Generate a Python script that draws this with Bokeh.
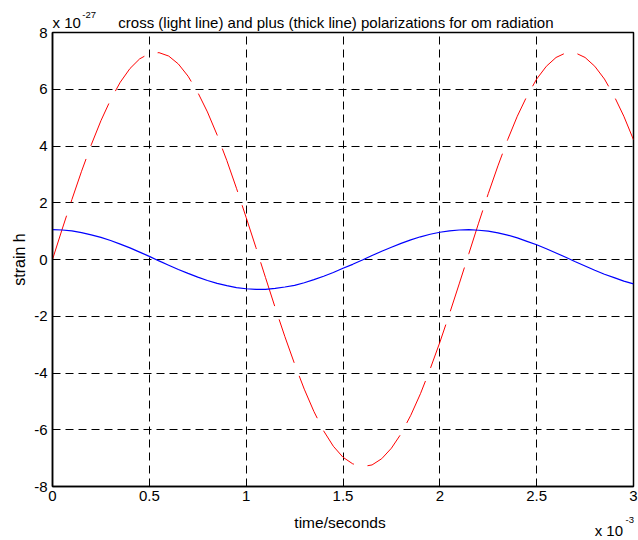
from bokeh.plotting import figure
from bokeh.models import Range1d, FixedTicker, NumeralTickFormatter, Label
from bokeh.embed import file_html
from bokeh.resources import INLINE

# time axis in units of 1e-3 s
time_ms = [0.00, 0.05, 0.10, 0.15, 0.20, 0.25, 0.30, 0.35, 0.40, 0.45,
           0.50, 0.55, 0.60, 0.65, 0.70, 0.75, 0.80, 0.85, 0.90, 0.95,
           1.00, 1.05, 1.10, 1.15, 1.20, 1.25, 1.30, 1.35, 1.40, 1.45,
           1.50, 1.55, 1.60, 1.65, 1.70, 1.75, 1.80, 1.85, 1.90, 1.95,
           2.00, 2.05, 2.10, 2.15, 2.20, 2.25, 2.30, 2.35, 2.40, 2.45,
           2.50, 2.55, 2.60, 2.65, 2.70, 2.75, 2.80, 2.85, 2.90, 2.95,
           3.00]

# cross polarization, strain in units of 1e-27
h_cross = [0.00, 1.07, 2.11, 3.11, 4.04, 4.89, 5.63, 6.25, 6.73, 7.07,
           7.26, 7.29, 7.17, 6.89, 6.46, 5.89, 5.20, 4.39, 3.49, 2.51,
           1.48, 0.43, -0.64, -1.70, -2.72, -3.68, -4.57, -5.36, -6.04, -6.58,
           -6.97, -7.20, -7.30, -7.24, -7.02, -6.65, -6.14, -5.49, -4.73, -3.86,
           -2.92, -1.91, -0.86, 0.21, 1.28, 2.32, 3.30, 4.22, 5.05, 5.76,
           6.36, 6.81, 7.12, 7.28, 7.28, 7.12, 6.81, 6.36, 5.76, 5.05,
           4.22]

# plus polarization, strain in units of 1e-27
h_plus = [1.05, 1.04, 1.01, 0.95, 0.87, 0.78, 0.67, 0.54, 0.41, 0.26,
          0.11, -0.05, -0.20, -0.35, -0.49, -0.62, -0.74, -0.84, -0.92, -0.99,
          -1.03, -1.05, -1.05, -1.02, -0.97, -0.91, -0.82, -0.71, -0.59, -0.46,
          -0.31, -0.17, -0.02, 0.14, 0.29, 0.43, 0.57, 0.69, 0.80, 0.89,
          0.96, 1.01, 1.04, 1.05, 1.03, 1.00, 0.94, 0.86, 0.76, 0.64,
          0.52, 0.38, 0.23, 0.08, -0.08, -0.23, -0.38, -0.52, -0.64, -0.76,
          -0.86]

x_ticks = [0, 0.5, 1, 1.5, 2, 2.5, 3]
y_ticks = [-8, -6, -4, -2, 0, 2, 4, 6, 8]

FONT = "Liberation Sans"
NBSP = "\u00a0"

p = figure(width=638, height=540, output_backend="svg", toolbar_location=None,
           x_range=Range1d(0, 3), y_range=Range1d(-8, 8),
           min_border_left=49, min_border_right=5, min_border_top=32,
           min_border_bottom=54)
p.title.visible = False
p.background_fill_color = "white"
p.border_fill_color = "white"
p.outline_line_color = "black"
p.outline_line_width = 1.5
p.outline_line_alpha = 1.0

for ax, ticks in ((p.xaxis[0], x_ticks), (p.yaxis[0], y_ticks)):
    ax.ticker = FixedTicker(ticks=ticks)
    ax.formatter = NumeralTickFormatter(format="0.[0]")
    ax.major_tick_in = 5
    ax.major_tick_out = 0
    ax.minor_tick_in = 0
    ax.minor_tick_out = 0
    ax.axis_line_color = "black"
    ax.axis_line_width = 1.5
    ax.major_tick_line_color = "black"
    ax.major_label_text_font = FONT
    ax.major_label_text_font_size = "15px"
    ax.major_label_text_color = "black"
p.xaxis[0].major_label_standoff = 4
p.yaxis[0].major_label_standoff = 5
p.yaxis[0].axis_label = "strain h"
p.yaxis[0].axis_label_text_font = FONT
p.yaxis[0].axis_label_text_font_style = "normal"
p.yaxis[0].axis_label_text_color = "black"
p.yaxis[0].axis_label_text_font_size = "16px"
p.yaxis[0].axis_label_standoff = 3

for g in (p.xgrid[0], p.ygrid[0]):
    g.grid_line_color = "black"
    g.grid_line_dash = "8 5"
    g.grid_line_width = 1
    g.grid_line_alpha = 1.0
p.xgrid[0].ticker = FixedTicker(ticks=x_ticks)
p.ygrid[0].ticker = FixedTicker(ticks=y_ticks)

p.line(time_ms, h_cross, line_color="#ff0000", line_width=1, line_dash="46 14")
p.line(time_ms, h_plus, line_color="#0000ff", line_width=1.2)

# Texts outside the frame: labels kept in side panels are drawn unclipped,
# at data coordinates; the panel only reserves room for them.
def add_text(side, x, y, text, size, align="left"):
    p.add_layout(Label(x=x, y=y, text=text, text_font=FONT, text_font_size=size,
                       text_align=align, text_baseline="alphabetic",
                       text_color="black"), side)

title_text = "cross (light line) and plus (thick line) polarizations for om radiation"
add_text("above", 0.0, 8.335, "x 10" + NBSP * 9 + title_text, "15px")
add_text("above", 0.154, 8.634, "-27", "9.5px")
add_text("below", 1.4846, -9.269, "time/seconds", "15.5px", align="center")
add_text("below", 2.7996, -9.551, "x 10", "15px")
add_text("left", 2.959, -9.198, "-3", "9.5px")

open("out.html", "w").write(file_html(p, INLINE))
